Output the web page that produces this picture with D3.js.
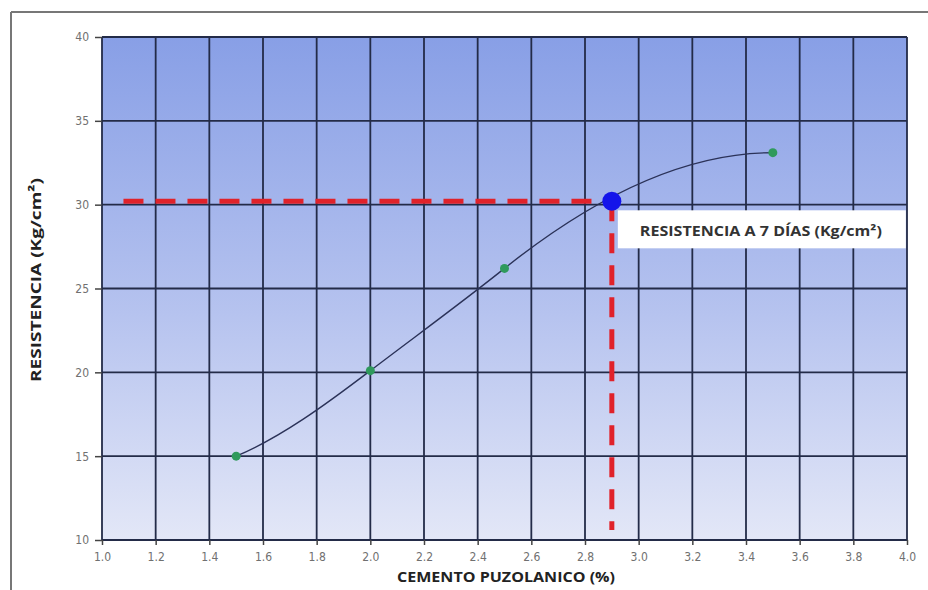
<!DOCTYPE html>
<html>
<head>
<meta charset="utf-8">
<script src="https://cdn.jsdelivr.net/npm/d3@7"></script>
<style>
body { margin: 0; background: #fff; }
text { font-family: "Open Sans", "DejaVu Sans", sans-serif; }
</style>
</head>
<body>
<script>
var width = 928;
var height = 590;

// data
var cemento = [1.5, 2.0, 2.5, 3.5];
var resistencia = [15.0, 20.1, 26.2, 33.1];
// slope of the smoothed line at each point (kg/cm2 per %)
var pendiente = [6.7, 12.2, 12.8, 0];
var lectura = {x: 2.9, y: 30.2};
var xTicks = [1.0, 1.2, 1.4, 1.6, 1.8, 2.0, 2.2, 2.4, 2.6, 2.8, 3.0, 3.2, 3.4, 3.6, 3.8, 4.0];
var yTicks = [10, 15, 20, 25, 30, 35, 40];

var margin = {top: 37, right: 21, bottom: 50, left: 102};

var svg = d3.select("body")
    .append("svg")
    .attr("width", width)
    .attr("height", height);

var x = d3.scaleLinear().domain([1, 4]).range([margin.left, width - margin.right]);
var y = d3.scaleLinear().domain([10, 40]).range([height - margin.bottom, margin.top]);

// frame
svg.append("line").attr("x1", 11).attr("x2", 11).attr("y1", 12).attr("y2", height)
    .attr("stroke", "#777").attr("stroke-width", 2);
svg.append("line").attr("x1", 11).attr("x2", width).attr("y1", 12).attr("y2", 12)
    .attr("stroke", "#777").attr("stroke-width", 2);

// plot background gradient
var grad = svg.append("defs").append("linearGradient")
    .attr("id", "bg").attr("x1", 0).attr("y1", 0).attr("x2", 0).attr("y2", 1);
grad.append("stop").attr("offset", "0%").attr("stop-color", "#889fe6");
grad.append("stop").attr("offset", "55%").attr("stop-color", "#b6c3ef");
grad.append("stop").attr("offset", "100%").attr("stop-color", "#e3e7f7");

svg.append("rect")
    .attr("x", x(1)).attr("y", y(40))
    .attr("width", x(4) - x(1)).attr("height", y(10) - y(40))
    .attr("fill", "url(#bg)");

// grid
var grid = svg.append("g").attr("stroke", "#232b48").attr("stroke-width", 1.8);
grid.selectAll(".vx").data(xTicks).enter().append("line")
    .attr("x1", function(d) { return x(d); }).attr("x2", function(d) { return x(d); })
    .attr("y1", y(40)).attr("y2", y(10));
grid.selectAll(".hy").data(yTicks).enter().append("line")
    .attr("x1", x(1)).attr("x2", x(4))
    .attr("y1", function(d) { return y(d); }).attr("y2", function(d) { return y(d); });

// axes
var xAxis = svg.append("g")
    .attr("transform", "translate(0," + y(10) + ")")
    .call(d3.axisBottom(x).tickValues(xTicks).tickFormat(d3.format(".1f")).tickSize(5).tickPadding(7));
var yAxis = svg.append("g")
    .attr("transform", "translate(" + x(1) + ",0)")
    .call(d3.axisLeft(y).tickValues(yTicks).tickSize(7).tickPadding(6));
[xAxis, yAxis].forEach(function(a) {
    a.select(".domain").remove();
    a.selectAll("line").attr("stroke", "#444").attr("stroke-width", 1.5);
    a.selectAll("text").attr("fill", "#707070").style("font-size", "12px")
        .style("font-family", "'Liberation Sans Narrow', 'DejaVu Sans Condensed', sans-serif");
});

// red dashed reading lines
var dash = svg.append("g").attr("stroke", "#e0222a").attr("stroke-width", 5)
    .attr("stroke-dasharray", "20,12").attr("fill", "none");
dash.append("line")
    .attr("x1", x(1.08)).attr("x2", x(lectura.x))
    .attr("y1", y(lectura.y)).attr("y2", y(lectura.y));
dash.append("line")
    .attr("x1", x(lectura.x)).attr("x2", x(lectura.x))
    .attr("y1", y(lectura.y)).attr("y2", y(10.6));

// smoothed curve (cubic hermite through the points)
var p = d3.path();
p.moveTo(x(cemento[0]), y(resistencia[0]));
for (var i = 1; i < cemento.length; i++) {
    var h = (cemento[i] - cemento[i - 1]) / 3;
    p.bezierCurveTo(
        x(cemento[i - 1] + h), y(resistencia[i - 1] + pendiente[i - 1] * h),
        x(cemento[i] - h), y(resistencia[i] - pendiente[i] * h),
        x(cemento[i]), y(resistencia[i]));
}
svg.append("path")
    .attr("d", p.toString())
    .attr("fill", "none")
    .attr("stroke", "#2b3258")
    .attr("stroke-width", 1.4);

var pts = cemento.map(function(c, i) { return [c, resistencia[i]]; });
svg.selectAll(".pt").data(pts).enter().append("circle")
    .attr("cx", function(d) { return x(d[0]); })
    .attr("cy", function(d) { return y(d[1]); })
    .attr("r", 4.5)
    .attr("fill", "#2f9a5c");

// reading point
svg.append("circle")
    .attr("cx", x(lectura.x)).attr("cy", y(lectura.y))
    .attr("r", 9.5).attr("fill", "#1414ea");

// label box
svg.append("rect")
    .attr("x", x(lectura.x) + 6).attr("y", y(lectura.y) + 9)
    .attr("width", 288).attr("height", 38)
    .attr("fill", "#fff");
svg.append("text")
    .attr("x", x(lectura.x) + 28).attr("y", y(lectura.y) + 35)
    .attr("fill", "#333")
    .attr("textLength", 242).attr("lengthAdjust", "spacingAndGlyphs")
    .style("font-size", "14px").style("font-weight", "bold")
    .text("RESISTENCIA A 7 DÍAS (Kg/cm²)");

// axis titles
svg.append("text")
    .attr("x", 506).attr("y", 582)
    .attr("text-anchor", "middle")
    .attr("fill", "#222")
    .attr("textLength", 218).attr("lengthAdjust", "spacingAndGlyphs")
    .style("font-size", "14px").style("font-weight", "bold")
    .text("CEMENTO PUZOLANICO (%)");
svg.append("text")
    .attr("transform", "translate(41,280) rotate(-90)")
    .attr("text-anchor", "middle")
    .attr("fill", "#222")
    .attr("textLength", 204).attr("lengthAdjust", "spacingAndGlyphs")
    .style("font-size", "15px").style("font-weight", "bold")
    .text("RESISTENCIA (Kg/cm²)");
</script>
</body>
</html>
